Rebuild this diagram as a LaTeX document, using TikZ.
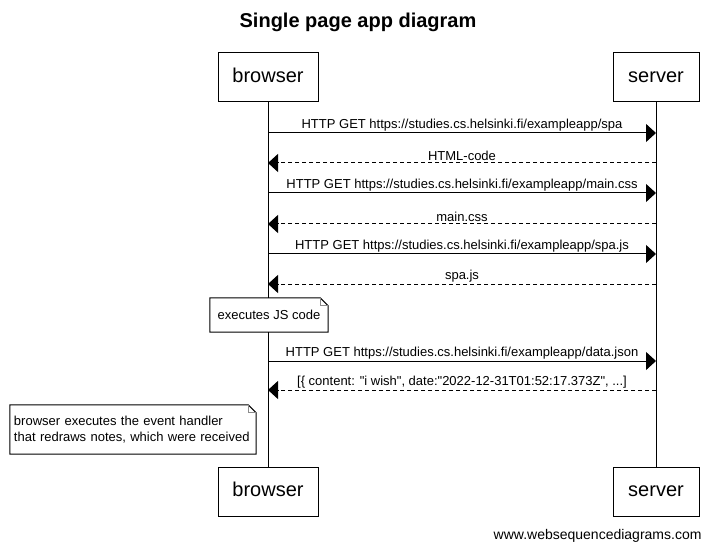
\documentclass[tikz,border=0pt]{standalone}
\usepackage{fontspec}
\setmainfont{Liberation Sans}[Ligatures=TeXOff]
\usetikzlibrary{positioning,calc,arrows.meta}

\tikzset{
    actor/.style = {draw, line width=1bp, font=\fontsize{20bp}{24bp}\selectfont, minimum height=49bp, inner sep=0pt, text height=14.5bp, text depth=4bp},
    msg/.style = {line width=1bp, -{Triangle[length=10bp, width=18bp]}},
    reply/.style = {msg, dash pattern=on 4bp off 3bp},
    msglabel/.style = {font=\fontsize{13bp}{15bp}\selectfont, above, inner sep=1.5bp},
    notetext/.style = {fill=white, font=\fontsize{13bp}{16bp}\selectfont, inner sep=0pt, align=left},
    notebox/.style = {draw, line width=1bp},
    fold/.style = {draw=black!45, line width=1bp}
}

\begin{document}
\begin{tikzpicture}[x=1bp, y=-1bp]
    \useasboundingbox (0, 0) rectangle (714, 550);
    \node[font=\bfseries\fontsize{20bp}{24bp}\selectfont] (title) at (358, 22) {Single page app diagram};
    % participants
    \node[actor, minimum width=100bp] (browser) at (268, 77.5) {browser};
    \node[actor, minimum width=86bp] (server) at (656, 77.5) {server};
    \node[actor, minimum width=100bp] (browserend) at (268, 491.5) {browser};
    \node[actor, minimum width=86bp] (serverend) at (656, 491.5) {server};
    \draw[line width=1bp] (browser) -- (browserend);
    \draw[line width=1bp] (server) -- (serverend);
    % message heights
    \coordinate (m1) at (0, 133);
    \coordinate (m2) at (0, 163);
    \coordinate (m3) at (0, 193);
    \coordinate (m4) at (0, 224);
    \coordinate (m5) at (0, 254);
    \coordinate (m6) at (0, 284);
    \coordinate (m7) at (0, 361);
    \coordinate (m8) at (0, 390);
    \draw[msg] (browser |- m1) -- (server |- m1) node[msglabel, midway]{HTTP GET https://studies.cs.helsinki.fi/exampleapp/spa};
    \draw[reply] (server |- m2) -- (browser |- m2) node[msglabel, midway]{HTML-code};
    \draw[msg] (browser |- m3) -- (server |- m3) node[msglabel, midway]{HTTP GET https://studies.cs.helsinki.fi/exampleapp/main.css};
    \draw[reply] (server |- m4) -- (browser |- m4) node[msglabel, midway]{main.css};
    \draw[msg] (browser |- m5) -- (server |- m5) node[msglabel, midway]{HTTP GET https://studies.cs.helsinki.fi/exampleapp/spa.js};
    \draw[reply] (server |- m6) -- (browser |- m6) node[msglabel, midway]{spa.js};
    \draw[msg] (browser |- m7) -- (server |- m7) node[msglabel, midway]{HTTP GET https://studies.cs.helsinki.fi/exampleapp/data.json};
    \draw[reply] (server |- m8) -- (browser |- m8) node[msglabel, midway]{[\{ content: "i wish", date:"2022-12-31T01:52:17.373Z", ...]};
    % notes
    \node[notetext, minimum width=118bp, minimum height=34bp] (jsnote) at (269, 315) {executes JS code};
    \draw[notebox] (jsnote.south west) -- (jsnote.north west) -- ($(jsnote.north east) +(-8, 0)$) -- ($(jsnote.north east) +(0, 8)$) -- (jsnote.south east) -- cycle;
    \draw[fold] ($(jsnote.north east) +(-8, 0)$) -- +(0, 8) -- ($(jsnote.north east) +(0, 8)$);
    \node[notetext, minimum width=246bp, minimum height=49bp, text width=238bp] (handlernote) at (133, 429.5) {browser executes the event handler\\that redraws notes, which were received};
    \draw[notebox] (handlernote.south west) -- (handlernote.north west) -- ($(handlernote.north east) +(-8, 0)$) -- ($(handlernote.north east) +(0, 8)$) -- (handlernote.south east) -- cycle;
    \draw[fold] ($(handlernote.north east) +(-8, 0)$) -- +(0, 8) -- ($(handlernote.north east) +(0, 8)$);
    \node[font=\fontsize{14bp}{17bp}\selectfont, anchor=east] (footer) at (705, 536) {www.websequencediagrams.com};
\end{tikzpicture}
\end{document}
